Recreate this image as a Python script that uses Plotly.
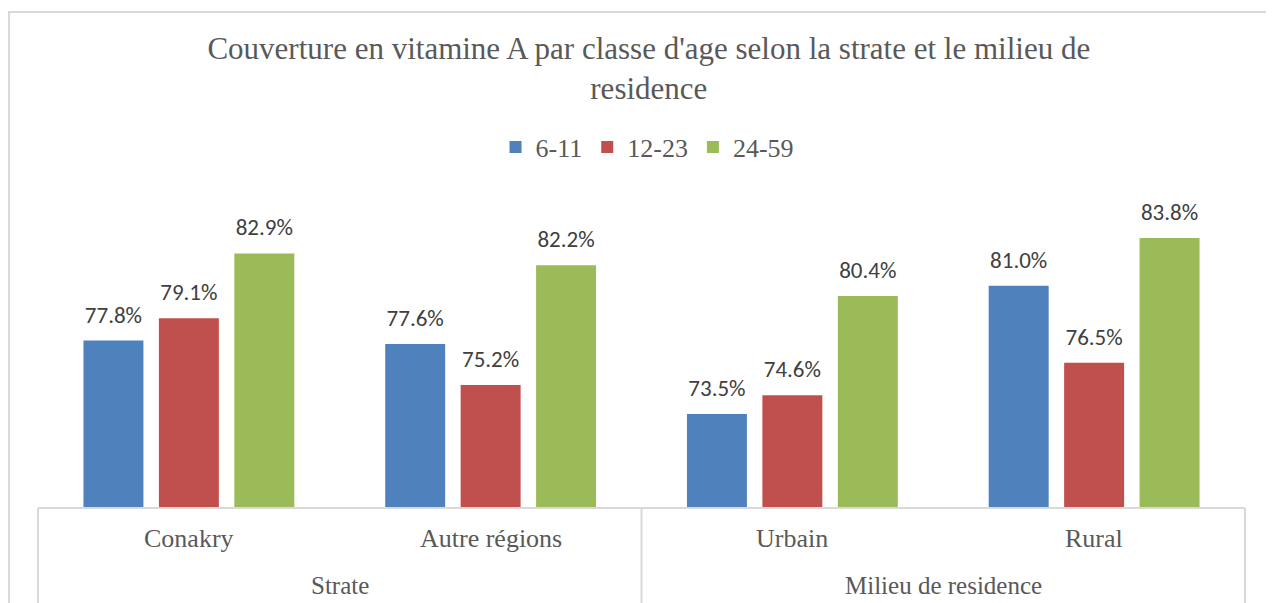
import plotly.graph_objects as go

categories = ["Conakry", "Autre régions", "Urbain", "Rural"]
groups = ["Strate", "Milieu de residence"]
group_members = [["Conakry", "Autre régions"], ["Urbain", "Rural"]]
series_names = ["6-11", "12-23", "24-59"]
v_6_11 = [77.8, 77.6, 73.5, 81.0]
v_12_23 = [79.1, 75.2, 74.6, 76.5]
v_24_59 = [82.9, 82.2, 80.4, 83.8]
colors = ["#4F81BD", "#C0504D", "#9BBB59"]

title_text = "Couverture en vitamine A par classe d'age selon la strate et le milieu de<br>residence"

serif = "Liberation Serif, Times New Roman, serif"
sans = "Carlito, Liberation Sans, Arial, sans-serif"

BARGAP = 0.25

fig = go.Figure()
for name, vals, col in zip(series_names, [v_6_11, v_12_23, v_24_59], colors):
    fig.add_trace(go.Bar(
        x=categories, y=vals, name=name, marker_color=col,
        marker_line_width=0, hoverinfo="x+y+name",
        alignmentgroup="bars", offsetgroup=name,
    ))
# data labels, grouped the same way as the bars
for name, vals in zip(series_names, [v_6_11, v_12_23, v_24_59]):
    fig.add_trace(go.Scatter(
        x=categories, y=vals, mode="markers+text", showlegend=False,
        text=[f"{v:.1f}%" for v in vals], textposition="top center",
        marker=dict(size=18, opacity=0, color="white"),
        textfont=dict(family=sans, size=23, color="#404040"),
        cliponaxis=False, hoverinfo="skip",
        alignmentgroup="labels", offsetgroup=name,
    ))

annotations = []
for c in categories:
    annotations.append(dict(x=c, y=-0.1, xref="x", yref="paper", text=c,
                            showarrow=False, yanchor="middle",
                            font=dict(family=serif, size=26, color="#595959")))
for g, mem in zip(groups, group_members):
    annotations.append(dict(x=(categories.index(mem[0]) + categories.index(mem[1])) / 2,
                            y=-0.253, xref="x", yref="paper", text=g,
                            showarrow=False, yanchor="middle",
                            font=dict(family=serif, size=25, color="#595959")))

line_style = dict(color="#D9D9D9", width=2)
shapes = [
    dict(type="line", xref="paper", yref="paper", x0=0, x1=1, y0=0, y1=0, line=line_style),
    dict(type="line", xref="paper", yref="paper", x0=0, x1=0, y0=0, y1=-0.45, line=line_style),
    dict(type="line", xref="paper", yref="paper", x0=0.5, x1=0.5, y0=0, y1=-0.45, line=line_style),
    dict(type="line", xref="paper", yref="paper", x0=1, x1=1, y0=0, y1=-0.45, line=line_style),
    dict(type="rect", xref="paper", yref="paper", x0=-0.024, x1=1.2, y0=-0.7, y1=1.61,
         line=dict(color="#D9D9D9", width=2), fillcolor="rgba(0,0,0,0)", layer="below"),
]

fig.update_layout(
    width=1274, height=603,
    margin=dict(l=30, r=37, t=192, b=103),
    paper_bgcolor="white", plot_bgcolor="white",
    barmode="group", bargap=BARGAP, bargroupgap=0.205,
    scattermode="group", scattergap=BARGAP,
    title=dict(text=title_text, x=0.503, xanchor="center", y=0.916, yanchor="middle",
               font=dict(family=serif, size=31, color="#595959")),
    legend=dict(orientation="h", x=0.505, xanchor="center", y=1.172, yanchor="middle",
                font=dict(family=serif, size=26, color="#595959"), itemwidth=30,
                traceorder="normal"),
    xaxis=dict(type="category", showticklabels=False, showline=False, ticks="",
               showgrid=False, zeroline=False, range=[-0.5, 3.5]),
    yaxis=dict(range=[68, 86.025], visible=False, showgrid=False, zeroline=False),
    annotations=annotations, shapes=shapes,
    showlegend=True,
)

fig.write_html("out.html")
